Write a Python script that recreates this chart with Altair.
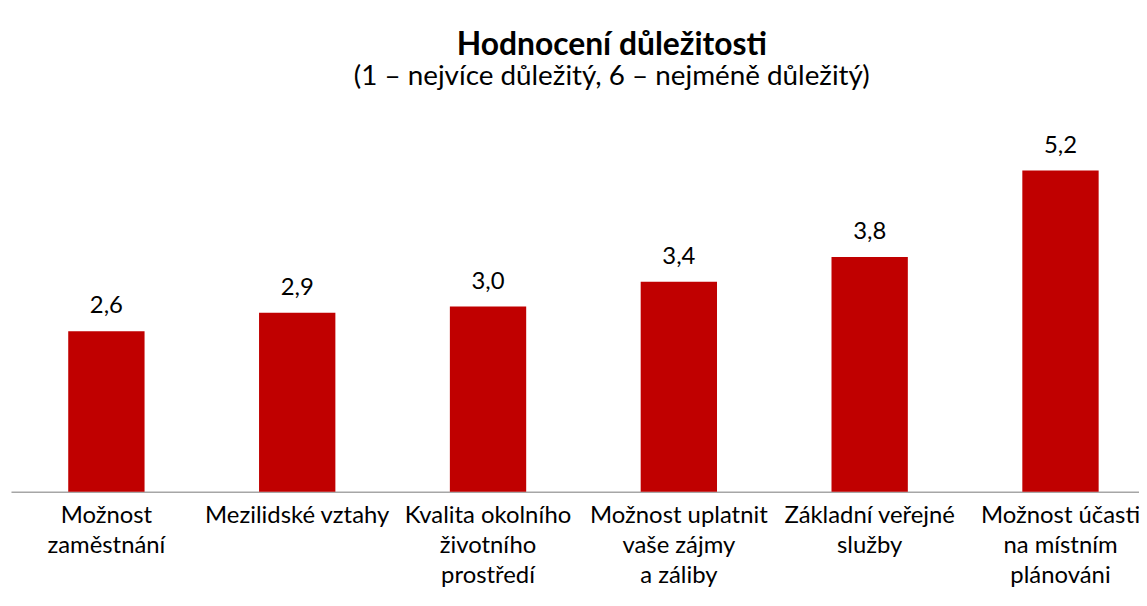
import altair as alt
import pandas as pd

categories = [
    "Možnost|zaměstnání",
    "Mezilidské vztahy",
    "Kvalita okolního|životního|prostředí",
    "Možnost uplatnit|vaše zájmy|a záliby",
    "Základní veřejné|služby",
    "Možnost účasti|na místním|plánováni",
]
values = [2.6, 2.9, 3.0, 3.4, 3.8, 5.2]

df = pd.DataFrame({"cat": categories, "val": values})

FONT = "Lato"
RED = "#C00000"

x = alt.X(
    "cat:N",
    sort=categories,
    title=None,
    scale=alt.Scale(range=[0, 1152], paddingInner=0.6, paddingOuter=0.3),
    axis=alt.Axis(
        labelExpr="split(datum.label, '|')",
        labelAngle=0,
        labelFont=FONT,
        labelFontSize=24,
        labelColor="#000000",
        labelLineHeight=30,
        labelPadding=12,
        labelBaseline="top",
        labelLimit=1000,
        ticks=False,
        domainColor="#A6A6A6",
        domainWidth=1.5,
        labelOverlap=False,
        labelBound=False,
    ),
)
y = alt.Y("val:Q", scale=alt.Scale(domain=[0, 6], nice=False), axis=None)

base = alt.Chart(df).encode(x=x, y=y)

bars = base.mark_bar(color=RED)
labels = base.transform_calculate(
    lab="replace(format(datum.val, '.1f'), '.', ',')"
).mark_text(
    font=FONT, fontSize=24, color="#000000", baseline="bottom", dy=-13
).encode(text="lab:N")

chart = (
    alt.layer(bars, labels)
    .properties(
        width=1135,
        height=373,
        autosize=alt.AutoSizeParams(type="none"),
        padding={"left": 3, "top": 112, "right": 0, "bottom": 96},
        title=alt.TitleParams(
            text="Hodnocení důležitosti",
            subtitle="(1 – nejvíce důležitý, 6 – nejméně důležitý)",
            font=FONT,
            fontSize=32,
            fontWeight="bold",
            color="#000000",
            subtitleFont=FONT,
            subtitleFontSize=28,
            subtitleColor="#000000",
            subtitlePadding=2,
            anchor="middle",
            dx=37,
            offset=29,
        ),
    )
    .configure_view(stroke=None)
)

chart.save("out.html", embed_options={"renderer": "svg", "actions": False})
